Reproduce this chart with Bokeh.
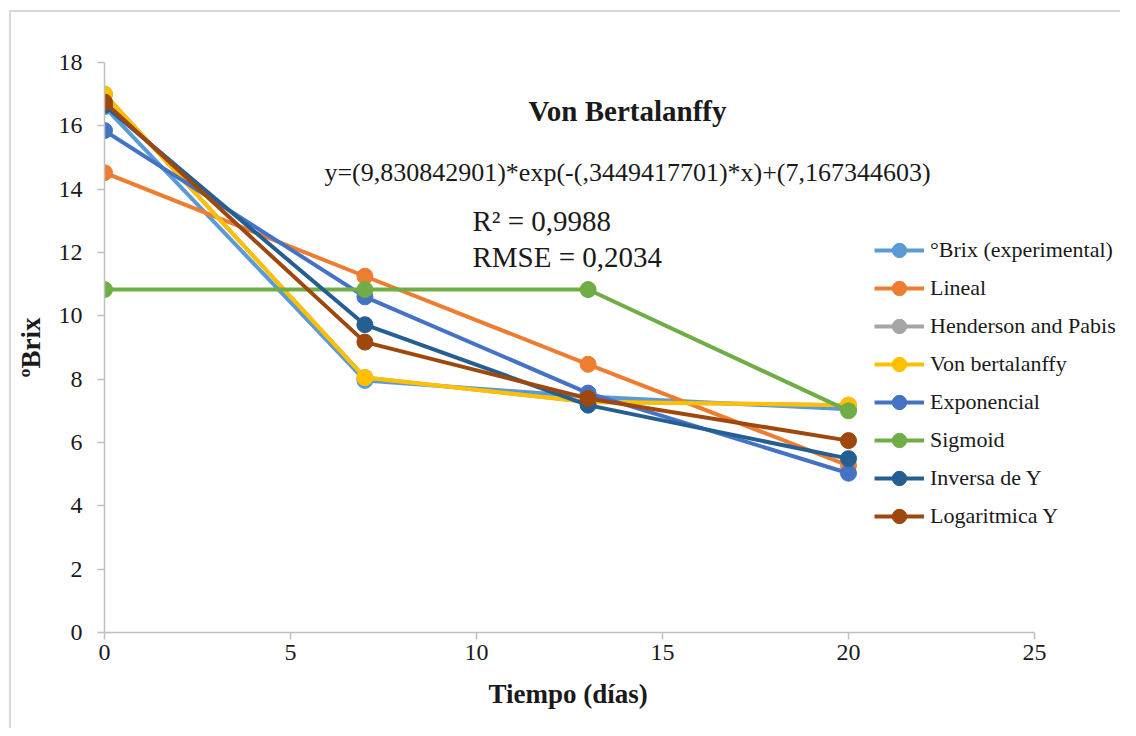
from bokeh.plotting import figure
from bokeh.models import Range1d, FixedTicker, Label, Legend, LegendItem, Title
from bokeh.embed import file_html
from bokeh.resources import INLINE

# ---------------- data ----------------
tiempo = [0, 7, 13, 20]
brix_exp = [16.6, 7.96, 7.45, 7.05]
lineal = [14.52, 11.25, 8.47, 5.27]
henderson = [17.0, 8.05, 7.28, 7.18]
von_bert = [17.0, 8.05, 7.28, 7.18]
exponencial = [15.85, 10.6, 7.56, 5.03]
sigmoid = [10.83, 10.83, 10.83, 7.0]
inversa = [16.65, 9.72, 7.18, 5.49]
logaritmica = [16.75, 9.17, 7.39, 6.06]

series_names = ["°Brix (experimental)", "Lineal", "Henderson and Pabis", "Von bertalanffy",
                "Exponencial", "Sigmoid", "Inversa de Y", "Logaritmica Y"]
series_vals = [brix_exp, lineal, henderson, von_bert, exponencial, sigmoid, inversa, logaritmica]
colors = ["#5B9BD5", "#ED7D31", "#A5A5A5", "#FFC000", "#4472C4", "#70AD47", "#255E91", "#9E480E"]

x_ticks = [0, 5, 10, 15, 20, 25]
y_ticks = [0, 2, 4, 6, 8, 10, 12, 14, 16, 18]

FONT = "Liberation Serif"
TXT = "#1a1a1a"

p = figure(width=1120, height=728, output_backend="svg", toolbar_location=None,
           x_range=Range1d(0, 27.258), y_range=Range1d(0, 18),
           min_border_left=104, min_border_right=2, min_border_top=62, min_border_bottom=96)
p.background_fill_color = None
p.border_fill_color = None
p.outline_line_color = None
p.styles = {"box-shadow": "inset 9px 10px 0 0 white, inset 11px 12px 0 0 #D9D9D9",
            "background": "white"}
p.xgrid.visible = False
p.ygrid.visible = False

for ax in (p.xaxis[0], p.yaxis[0]):
    ax.axis_line_color = "#BFBFBF"
    ax.axis_line_width = 1.5
    ax.major_tick_line_color = "#BFBFBF"
    ax.major_tick_line_width = 1.5
    ax.minor_tick_line_color = None
    ax.major_tick_in = 0
    ax.major_tick_out = 7
    ax.major_label_text_font = FONT
    ax.major_label_text_font_size = "24px"
    ax.major_label_text_color = TXT
    ax.axis_label_text_font = FONT
    ax.axis_label_text_font_style = "bold"
    ax.axis_label_text_font_size = "27px"
    ax.axis_label_text_color = TXT

p.xaxis.ticker = FixedTicker(ticks=x_ticks)
p.yaxis.ticker = FixedTicker(ticks=y_ticks)
p.xaxis.bounds = (0, 25)
p.xaxis.major_label_standoff = 5
p.yaxis.major_label_standoff = 15
p.yaxis.axis_label = "ºBrix"
p.yaxis.axis_label_standoff = 10

items = []
for name, vals, c in zip(series_names, series_vals, colors):
    r1 = p.line(tiempo, vals, line_color=c, line_width=4)
    r2 = p.scatter(tiempo, vals, marker="circle", size=16, fill_color=c, line_color=c)
    items.append(LegendItem(label=name, renderers=[r1, r2]))

legend = Legend(items=items, location=(770, 98))
legend.background_fill_alpha = 0
legend.border_line_color = None
legend.padding = 0
legend.margin = 0
legend.spacing = 2
legend.glyph_width = 50
legend.glyph_height = 36
legend.label_height = 36
legend.label_standoff = 6
legend.label_text_font = FONT
legend.label_text_font_size = "22px"
legend.label_text_color = TXT
p.add_layout(legend, "center")

# x-axis title, centred under the 0-25 axis span
xt = Title(text="Tiempo (días)", align="left", offset=384, standoff=29,
           text_font=FONT, text_font_style="bold", text_font_size="27px", text_color=TXT)
p.add_layout(xt, "below")

p.add_layout(Label(x=14.06, y=16.48, text="Von Bertalanffy", text_font=FONT,
                   text_font_style="bold", text_font_size="29px", text_color=TXT,
                   text_align="center", text_baseline="middle"))
p.add_layout(Label(x=14.06, y=14.52, text="y=(9,830842901)*exp(-(,3449417701)*x)+(7,167344603)",
                   text_font=FONT, text_font_size="26px", text_color=TXT,
                   text_align="center", text_baseline="middle"))
p.add_layout(Label(x=9.89, y=13.01, text="R² = 0,9988", text_font=FONT,
                   text_font_size="29px", text_color=TXT, text_align="left", text_baseline="middle"))
p.add_layout(Label(x=9.89, y=11.87, text="RMSE = 0,2034", text_font=FONT,
                   text_font_size="29px", text_color=TXT, text_align="left", text_baseline="middle"))

open("out.html", "w").write(file_html(p, INLINE))
